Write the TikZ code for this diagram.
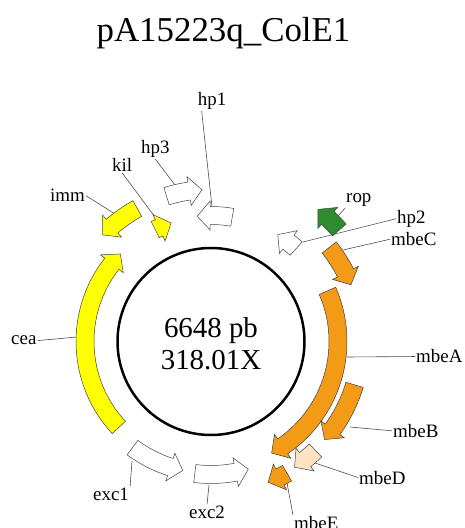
\documentclass[tikz,border=0pt]{standalone}
\usepackage{fontspec}
\setmainfont{Liberation Serif}
\definecolor{geneyellow}{HTML}{FFFF00}
\definecolor{geneorange}{HTML}{F39A17}
\definecolor{genegreen}{HTML}{2E8B2E}
\definecolor{genebisque}{HTML}{FDE3C3}
\tikzset{
  gene/.style={draw=black!75,line width=0.5},
  lbl/.style={font=\fontsize{19}{21}\selectfont,inner sep=1,anchor=base west},
  lead/.style={draw=black!70,line width=0.6},
}
\newcommand\genearrow[4]{%
  \pgfmathsetmacro\gsign{(#3>#2)?1:-1}
  \pgfmathsetmacro\ghead{#3-\gsign*745/#1}
  \pgfmathsetmacro\gri{#1-9}
  \pgfmathsetmacro\gro{#1+9}
  \pgfmathsetmacro\ghi{#1-14.5}
  \pgfmathsetmacro\gho{#1+14.5}
  \filldraw[gene,fill=#4] (#2:\gro) arc[start angle=#2,end angle=\ghead,radius=\gro]
    -- (\ghead:\gho) -- (#3:#1) -- (\ghead:\ghi) -- (\ghead:\gri)
    arc[start angle=\ghead,end angle=#2,radius=\gri] -- cycle;
}
\begin{document}
\begin{tikzpicture}[x=1bp,y=1bp]
	\useasboundingbox (-211,-186.5) rectangle (254,341.5);
	
	\node[anchor=base] (title) at (12.5,299.8) {\fontsize{35}{40}\selectfont pA15223q\_ColE1};
	
	\draw[line width=2.5] (0,0) circle (93.5);
	\node[anchor=base] (size) at (0,3.5) {\fontsize{29}{34}\selectfont 6648 pb};
	\node[anchor=base] (cov) at (0,-28.5) {\fontsize{29}{34}\selectfont 318.01X};
	
	\node[lbl] (hp1) at (-14.3,235.5) {hp1};
	\node[lbl] (hp3) at (-71,187.5) {hp3};
	\node[lbl] (kil) at (-100,169.8) {kil};
	\node[lbl] (imm) at (-162,139.5) {imm};
	\node[lbl] (cea) at (-201,-3.5) {cea};
	\node[lbl] (exc1) at (-119,-158.5) {exc1};
	\node[lbl] (exc2) at (-23,-176.5) {exc2};
	\node[lbl] (mbeE) at (82,-188) {mbeE};
	\node[lbl] (mbeD) at (147,-142.5) {mbeD};
	\node[lbl] (mbeB) at (181,-95.8) {mbeB};
	\node[lbl] (mbeA) at (204,-21.5) {mbeA};
	\node[lbl] (mbeC) at (179,95.8) {mbeC};
	\node[lbl] (hp2) at (185,118.2) {hp2};
	\node[lbl] (rop) at (134,138.5) {rop};
	
	\coordinate (hp1-p) at (1,134.5);
	\coordinate (hp3-p) at (-36,156.5);
	\coordinate (kil-p) at (-56,124.5);
	\coordinate (imm-p) at (-96,127.5);
	\coordinate (cea-p) at (-134,4.5);
	\coordinate (exc1-p) at (-79,-119.5);
	\coordinate (exc2-p) at (-2,-143.5);
	\coordinate (mbeE-p) at (76,-141.5);
	\coordinate (mbeD-p) at (104,-121.5);
	\coordinate (mbeB-p) at (139,-85.5);
	\coordinate (mbeA-p) at (136,-15.5);
	\coordinate (mbeC-p) at (132,91.5);
	\coordinate (hp2-p) at (92,99.5);
	\coordinate (rop-p) at (126,124.5);
	
	\draw[lead] ([xshift=5]hp1.south west) -- (hp1-p);
	\draw[lead] (hp3.south) -- (hp3-p);
	\draw[lead] (kil.south) -- (kil-p);
	\draw[lead] (imm.east) -- (imm-p);
	\draw[lead] (cea.east) -- (cea-p);
	\draw[lead] (exc1.north east) -- (exc1-p);
	\draw[lead] (exc2.north) -- (exc2-p);
	\draw[lead] (mbeE.north west) -- (mbeE-p);
	\draw[lead] (mbeD.west) -- (mbeD-p);
	\draw[lead] (mbeB.west) -- (mbeB-p);
	\draw[lead] (mbeA.west) -- (mbeA-p);
	\draw[lead] (mbeC.west) -- (mbeC-p);
	\draw[lead] (hp2.west) -- (hp2-p);
	\draw[lead] (rop.south west) -- (rop-p);
	
	\genearrow{126}{223}{136}{geneyellow}
	\genearrow{152}{119}{135.5}{geneyellow}
	\genearrow{125}{116.5}{108.6}{geneyellow}
	\genearrow{152}{107}{93.4}{white}
	\genearrow{126}{80.3}{96.3}{white}
	\genearrow{126}{47.5}{58}{white}
	\genearrow{170}{41}{51}{genegreen}
	\genearrow{151}{38.5}{22.1}{geneorange}
	\genearrow{127}{23.5}{-61.5}{geneorange}
	\genearrow{150}{-16.8}{-40.8}{geneorange}
	\genearrow{151}{-46.2}{-56.4}{genebisque}
	\genearrow{152}{-60}{-67.9}{geneorange}
	\genearrow{132}{233.5}{257.7}{white}
	\genearrow{133}{263}{286.3}{white}
	
\end{tikzpicture}
\end{document}
